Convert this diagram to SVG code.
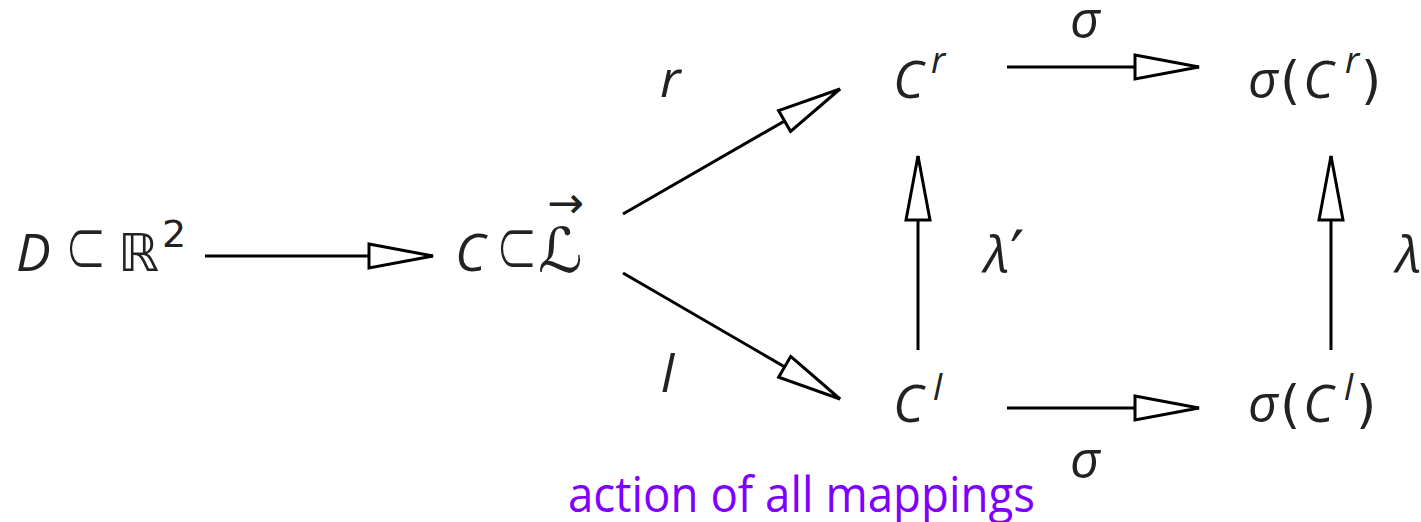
<svg xmlns="http://www.w3.org/2000/svg" width="1421" height="522" viewBox="0 0 1421 522">
<style>
.m{font-family:"Open Sans","DejaVu Sans",sans-serif;font-style:italic;font-size:52px;fill:#222}
.u{font-family:"DejaVu Sans","Open Sans",sans-serif;font-style:normal;fill:#222}
.sub{font-family:"DejaVu Sans","Open Sans",sans-serif;font-style:normal;font-size:84px;fill:#222;stroke:#fff;stroke-width:2.6}
.sup{font-size:36px}
.cap{font-family:"Open Sans","DejaVu Sans",sans-serif;font-size:50px;fill:#7f00ff}
.edge{fill:none;stroke:#000;stroke-width:3;marker-end:url(#ah)}
</style>
<defs>
<marker id="ah" markerUnits="userSpaceOnUse" markerWidth="80" markerHeight="40" refX="65" refY="12" orient="auto" overflow="visible">
<path d="M1,0 L65,12 L1,24 Z" fill="#fff" stroke="#000" stroke-width="3"/>
</marker>
</defs>
<rect width="1421" height="522" fill="#fff"/>
<g id="connectors">
<path class="edge" d="M205,256 L433,256"/>
<path class="edge" d="M623,214 L840,89"/>
<path class="edge" d="M623,273 L840,399"/>
<path class="edge" d="M1007,67 L1199,67"/>
<path class="edge" d="M1007,408 L1199,408"/>
<path class="edge" d="M918,350 L918,156"/>
<path class="edge" d="M1331,350 L1331,156"/>
</g>
<g id="node-D">
<text class="m" y="271"><tspan x="16">D</tspan><tspan class="u" x="118" y="271" font-size="52">ℝ</tspan><tspan class="u" x="162" y="247" font-size="38">2</tspan></text>
<text class="sub" transform="translate(64,275) scale(0.62,1)">⊂</text>
</g>
<g id="node-C">
<text class="m" y="271"><tspan x="455">C</tspan><tspan class="u" x="538" y="272" font-size="62">ℒ</tspan></text>
<text class="sub" transform="translate(495,275) scale(0.62,1)">⊂</text>
<text class="u" x="547" y="218" font-size="44">→</text>
</g>
<g id="node-Cr">
<text class="m" y="98"><tspan x="893">C</tspan><tspan class="sup" x="931" y="73">r</tspan></text>
</g>
<g id="node-Cl">
<text class="m" y="422"><tspan x="893">C</tspan><tspan class="sup" x="933" y="400">l</tspan></text>
</g>
<g id="node-sCr">
<text class="m" y="98"><tspan x="1248">σ</tspan><tspan class="u" x="1280" font-size="52">(</tspan><tspan x="1303">C</tspan><tspan class="sup" x="1345" y="73">r</tspan><tspan class="u" x="1361" y="98" font-size="52">)</tspan></text>
</g>
<g id="node-sCl">
<text class="m" y="422"><tspan x="1248">σ</tspan><tspan class="u" x="1280" font-size="52">(</tspan><tspan x="1303">C</tspan><tspan class="sup" x="1344" y="400">l</tspan><tspan class="u" x="1356" y="422" font-size="52">)</tspan></text>
</g>
<g id="labels">
<text class="m" x="660" y="97">r</text>
<text class="m" x="661" y="392">l</text>
<text class="m" x="1070" y="38">σ</text>
<text class="m" x="1070" y="478">σ</text>
<text class="m" y="273"><tspan x="984">λ</tspan><tspan class="u" x="1010" font-size="64" y="276">′</tspan></text>
<text class="m" x="1396" y="273">λ</text>
<text class="cap" x="568" y="512" textLength="467" lengthAdjust="spacingAndGlyphs">action of all mappings</text>
</g>
</svg>
